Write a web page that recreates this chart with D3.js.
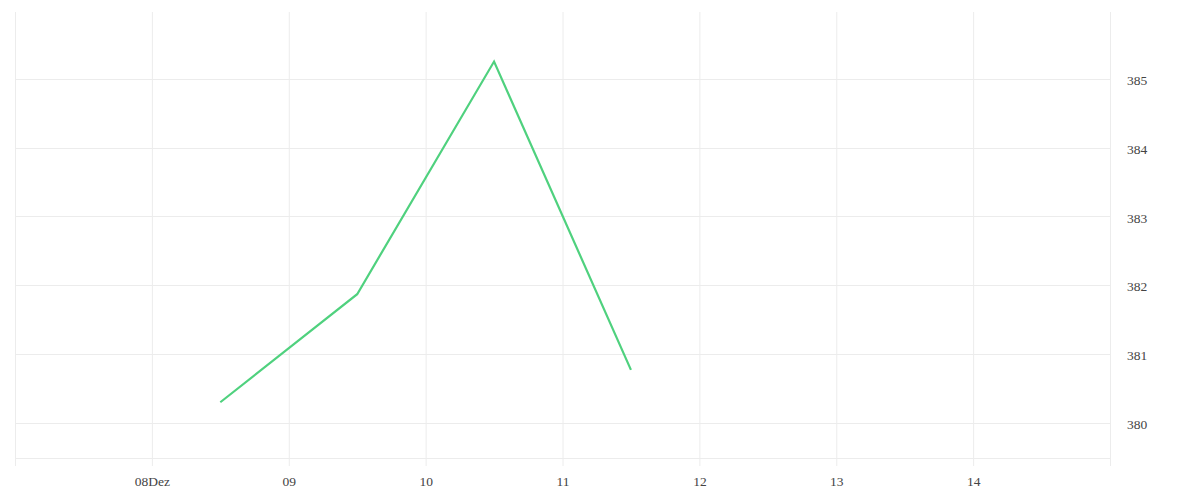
<!DOCTYPE html>
<html><head><meta charset="utf-8">
<script src="https://cdn.jsdelivr.net/npm/d3@7"></script>
<style>
html,body{margin:0;padding:0;background:#fff;}
svg{display:block;}
.tick text{font-family:"Liberation Serif",serif;font-size:13.5px;fill:#444;}
</style></head>
<body><svg id="chart" width="1200" height="500"></svg>
<script>
const dates = ["2023-12-08T12:00","2023-12-09T12:00","2023-12-10T12:00","2023-12-11T12:00"];
const values = [380.30, 381.87, 385.25, 380.77];
const xDomain = ["2023-12-07T00:00","2023-12-15T00:00"];
const yDomain = [379.49, 385.97];
const yTicks = [380,381,382,383,384,385];
const xTickDates = ["2023-12-08","2023-12-09","2023-12-10","2023-12-11","2023-12-12","2023-12-13","2023-12-14"];
const xTickLabels = ["08Dez","09","10","11","12","13","14"];

const parse = d3.isoParse;
const svg = d3.select("#chart");
const m = {left:15, right:90, top:12, bottom:42};
const W = 1200, H = 500;
const x = d3.scaleTime().domain(xDomain.map(s=>new Date(s))).range([m.left, W-m.right]);
const y = d3.scaleLinear().domain(yDomain).range([H-m.bottom, m.top]);
const grid = "#ececec";

// horizontal grid
svg.append("g").selectAll("line").data(yTicks).join("line")
  .attr("x1", m.left).attr("x2", W-m.right)
  .attr("y1", d=>Math.round(y(d))+0.5).attr("y2", d=>Math.round(y(d))+0.5)
  .attr("stroke", grid);
// bottom border
svg.append("line").attr("x1", m.left).attr("x2", W-m.right)
  .attr("y1", H-m.bottom+0.5).attr("y2", H-m.bottom+0.5).attr("stroke", grid);

// x axis with ticks forming vertical grid
const tickDates = xTickDates.map(s=>new Date(s+"T00:00"));
const xAxis = d3.axisBottom(x).tickValues(tickDates)
  .tickFormat((d,i)=>xTickLabels[i]).tickSize(H-m.bottom-m.top+8).tickPadding(10);
const gx = svg.append("g").attr("transform",`translate(0,${m.top})`).call(xAxis);
gx.select(".domain").remove();
gx.selectAll(".tick line").attr("stroke", grid);
// left and right edges
[x.range()[0], x.range()[1]].forEach(px=>{
  svg.append("line").attr("x1", Math.round(px)+0.5).attr("x2", Math.round(px)+0.5)
    .attr("y1", m.top).attr("y2", H-m.bottom+8).attr("stroke", grid);
});

// y axis right
const yAxis = d3.axisRight(y).tickValues(yTicks).tickFormat(d3.format("d")).tickSize(0).tickPadding(17);
const gy = svg.append("g").attr("transform",`translate(${W-m.right},0)`).call(yAxis);
gy.select(".domain").remove();
gy.selectAll(".tick text").attr("dy","0.42em");

// line
const pts = dates.map((d,i)=>({d:parse(d), v:values[i]}));
svg.append("path").datum(pts)
  .attr("fill","none").attr("stroke","#4fd17e").attr("stroke-width",2.2)
  .attr("d", d3.line().x(p=>x(p.d)).y(p=>y(p.v)));
</script></body></html>
